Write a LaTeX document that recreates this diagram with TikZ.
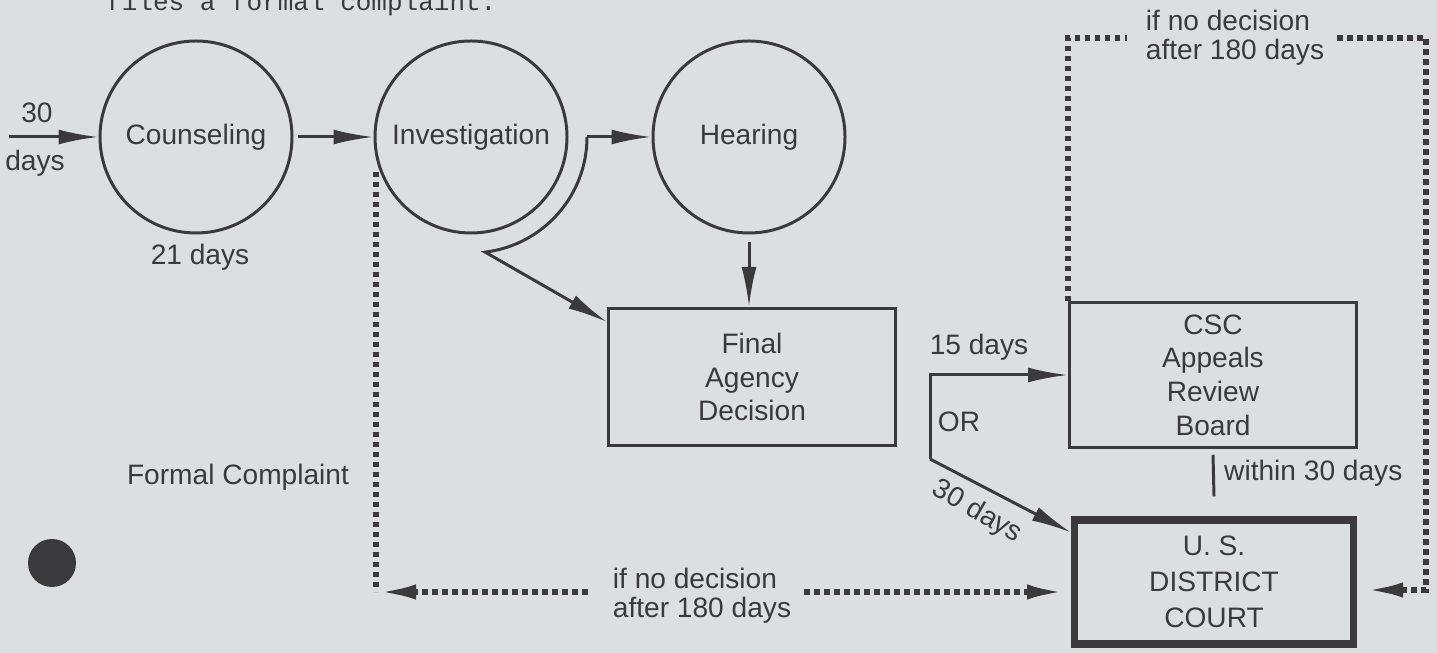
\documentclass[tikz,border=0pt]{standalone}
\usepackage{fontspec}
\setmainfont{Liberation Sans}
\newfontfamily\typewriter{Liberation Mono}
\usetikzlibrary{arrows.meta}
\definecolor{paper}{RGB}{220,223,226}
\definecolor{ink}{RGB}{58,58,60}

\begin{document}
\begin{tikzpicture}[x=0.1mm,y=0.1mm,line width=0.85pt,color=ink,
  font=\fontsize{8}{9.6}\selectfont,
  >={Latex[length=4mm,width=1.5mm]},
  stage/.style={circle,draw,minimum size=19.2mm,inner sep=0pt},
  panel/.style={draw,align=center,minimum width=28.7mm,minimum height=13.7mm},
  dots/.style={line width=1.7pt,dash pattern=on 0.55mm off 0.45mm}]
  \useasboundingbox (0,0) rectangle (1437,-653);
  \fill[paper] (0,0) rectangle (1437,-653);
  \node[anchor=base west,font=\typewriter\fontsize{7.4}{8}\selectfont] (lead) at (93,-11) {files a formal complaint:};
  % circles
  \node[stage] (couns) at (196,-137) {Counseling};
  \node[stage] (inv) at (471,-137) {Investigation};
  \node[stage] (hear) at (749,-137) {Hearing};
  \node (thirty) at (37,-113) {30};
  \node (thirtydays) at (35,-163) {days};
  \node (cdays) at (200,-257) {21 days};
  \coordinate (entry) at (9,-137);
  \draw[->] (entry) -- (couns);
  \draw[->,shorten <=0.5mm] (couns) -- (inv);
  % boxes
  \node[panel] (fad) at (752,-377) {Final\\Agency\\Decision};
  \node[panel] (csc) at (1213,-375) {CSC\\Appeals\\Review\\Board};
  \node[panel,line width=2pt,minimum width=27.9mm,minimum height=12.4mm,font=\fontsize{8}{10.3}\selectfont] (court) at (1214,-582) {U. S.\\DISTRICT\\COURT};
  % hearing or decision
  \coordinate (fork) at ([xshift=11.6mm]inv.center);
  \draw[->] (fork) -- (hear);
  \draw[->] (fork) arc[start angle=0,end angle=-83,radius=11.6mm] -- ([yshift=-1.5mm]fad.north west);
  \draw[->] ([yshift=-0.8mm]hear.south) -- (hear.south |- fad.north);
  % appeal or court
  \coordinate (ortop) at (930,-375);
  \coordinate (orbot) at (930,-459);
  \draw[->] (orbot) -- (ortop) -- (csc.west);
  \draw[->] (orbot) -- ([yshift=-1.6mm]court.north west);
  \node (fifteen) at (979,-347) {15 days};
  \node (ortext) at (959,-422) {OR};
  \node[rotate=-30] (thirtyd) at (977,-512) {30 days};
  \draw ([yshift=-0.6mm]csc.south) -- ([yshift=2mm]court.north);
  \node[anchor=west] (within) at (1211,-473) {within 30 days};
  % no decision, top
  \node[align=left,font=\fontsize{8}{8.3}\selectfont] (topnote) at (1235,-38) {if no decision\\after 180 days};
  \coordinate (rtop) at (1426,-38);
  \coordinate (rbot) at (1426,-590);
  \draw[dots,shorten >=0.6mm] (csc.north west) -- (csc.north west |- topnote.west) -- (topnote.west);
  \draw[dots,->,shorten >=0.6mm] (topnote.east) -- (rtop) -- (rbot) -- (rbot -| court.east);
  % no decision, bottom
  \node[align=left,font=\fontsize{8}{8.3}\selectfont] (botnote) at (702,-596) {if no decision\\after 180 days};
  \coordinate (drop) at (376,-172);
  \coordinate (corner) at (376,-592);
  \draw[dots] (drop) -- (corner);
  \draw[dots,->,shorten <=1.2mm] (botnote.west |- corner) -- (corner);
  \draw[dots,->,shorten >=0.4mm] (botnote.east |- corner) -- (corner -| court.west);
  \node (formal) at (238,-477) {Formal Complaint};
  \fill (52,-563) circle[radius=2.4mm];
\end{tikzpicture}
\end{document}
